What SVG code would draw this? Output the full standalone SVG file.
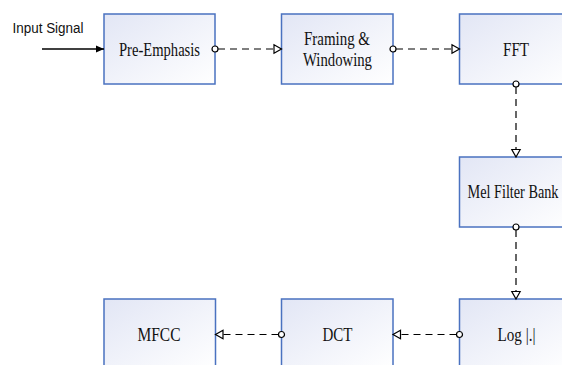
<svg xmlns="http://www.w3.org/2000/svg" width="562" height="365" viewBox="0 0 562 365">
<style>
.box{fill:url(#g);stroke:#4a72c0;stroke-width:1.5}
.t{font-family:"Liberation Serif","Times New Roman",serif;font-size:18px;fill:#111;text-anchor:middle}
.c{fill:none;stroke:#000;stroke-width:1.2;stroke-dasharray:7 5}
</style>
<defs>
<linearGradient id="g" x1="0" y1="0" x2="1" y2="1">
<stop offset="0" stop-color="#e2e6f5"/>
<stop offset="1" stop-color="#ffffff"/>
</linearGradient>
<marker id="ci" markerUnits="userSpaceOnUse" markerWidth="10" markerHeight="10" refX="5" refY="5" orient="auto" overflow="visible">
<circle cx="5" cy="5" r="3" fill="#fff" stroke="#000" stroke-width="1.2" stroke-dasharray="none"/>
</marker>
<marker id="tr" markerUnits="userSpaceOnUse" markerWidth="10" markerHeight="10" refX="8" refY="5" orient="auto" overflow="visible">
<path d="M0.5,0.8 L8,5 L0.5,9.2 Z" fill="#fff" stroke="#000" stroke-width="1.2" stroke-dasharray="none"/>
</marker>
<marker id="fa" markerUnits="userSpaceOnUse" markerWidth="10" markerHeight="10" refX="8" refY="5" orient="auto" overflow="visible">
<path d="M0,1.5 L8,5 L0,8.5 Z" fill="#000"/>
</marker>
</defs>
<rect width="562" height="365" fill="#fff"/>
<g id="input-label">
<text x="12.5" y="33" font-family="'Liberation Sans',Arial,sans-serif" font-size="14" textLength="71" lengthAdjust="spacingAndGlyphs" fill="#111">Input Signal</text>
</g>
<g id="pre-emphasis">
<rect class="box" x="104" y="14" width="111" height="70"/>
<text class="t" x="159.5" y="55.5" textLength="81" lengthAdjust="spacingAndGlyphs">Pre-Emphasis</text>
</g>
<g id="framing">
<rect class="box" x="281.5" y="14" width="111.5" height="70"/>
<text class="t" x="337" y="44.5" textLength="66" lengthAdjust="spacingAndGlyphs">Framing &amp;</text>
<text class="t" x="337.5" y="66" textLength="69" lengthAdjust="spacingAndGlyphs">Windowing</text>
</g>
<g id="fft">
<rect class="box" x="459.5" y="14" width="113" height="70"/>
<text class="t" x="516" y="55.5" textLength="26" lengthAdjust="spacingAndGlyphs">FFT</text>
</g>
<g id="mel">
<rect class="box" x="459.5" y="157" width="113" height="70"/>
<text class="t" x="513" y="198" textLength="91" lengthAdjust="spacingAndGlyphs">Mel Filter Bank</text>
</g>
<g id="log">
<rect class="box" x="459.5" y="299" width="113" height="70"/>
<text class="t" x="516.5" y="341" textLength="38" lengthAdjust="spacingAndGlyphs">Log |.|</text>
</g>
<g id="dct">
<rect class="box" x="281.5" y="299" width="111.5" height="70"/>
<text class="t" x="337.5" y="341" textLength="30" lengthAdjust="spacingAndGlyphs">DCT</text>
</g>
<g id="mfcc">
<rect class="box" x="104" y="299" width="111.5" height="70"/>
<text class="t" x="159" y="341" textLength="43" lengthAdjust="spacingAndGlyphs">MFCC</text>
</g>
<g id="connectors">
<path d="M42,49 H104" stroke="#000" stroke-width="1.3" marker-end="url(#fa)"/>
<path class="c" d="M215,49 H281.5" stroke-dashoffset="-3" marker-start="url(#ci)" marker-end="url(#tr)"/>
<path class="c" d="M393,49 H459.5" stroke-dashoffset="-3" marker-start="url(#ci)" marker-end="url(#tr)"/>
<path class="c" d="M516,84 V157" stroke-dashoffset="-3" marker-start="url(#ci)" marker-end="url(#tr)"/>
<path class="c" d="M516,227 V299" stroke-dashoffset="-3" marker-start="url(#ci)" marker-end="url(#tr)"/>
<path class="c" d="M459.5,334.5 H393" stroke-dashoffset="-3" marker-start="url(#ci)" marker-end="url(#tr)"/>
<path class="c" d="M281.5,334.5 H215.5" stroke-dashoffset="-3" marker-start="url(#ci)" marker-end="url(#tr)"/>
</g>
</svg>
